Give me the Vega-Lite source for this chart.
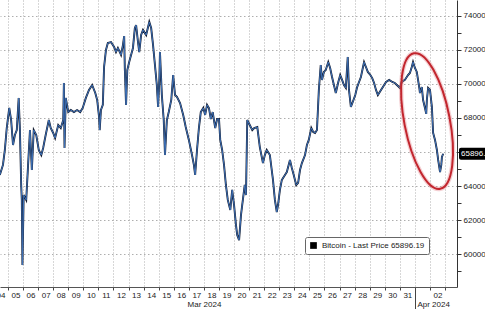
{
"$schema": "https://vega.github.io/schema/vega-lite/v6.json",
"width": 457, "height": 287,
"autosize": {"type": "none"},
"padding": {"left": 0, "top": 0, "right": 28, "bottom": 22},
"background": "white",
"config": {"view": {"stroke": null}, "font": "Liberation Sans"},
"datasets": {
"btc": [
{"t":"2024-03-04T11:00","p":64650},{"t":"2024-03-04T16:00","p":65240},{"t":"2024-03-04T19:00","p":66120},{"t":"2024-03-04T22:00","p":67410},
{"t":"2024-03-05T02:00","p":68590},{"t":"2024-03-05T05:00","p":67880},{"t":"2024-03-05T08:00","p":66410},{"t":"2024-03-05T11:00","p":67000},
{"t":"2024-03-05T14:00","p":67290},{"t":"2024-03-05T17:00","p":69180},{"t":"2024-03-05T19:00","p":67290},{"t":"2024-03-05T21:00","p":64060},
{"t":"2024-03-05T22:00","p":63180},{"t":"2024-03-05T23:00","p":59350},{"t":"2024-03-06T01:00","p":63470},{"t":"2024-03-06T05:00","p":63180},
{"t":"2024-03-06T08:00","p":65240},{"t":"2024-03-06T11:00","p":67290},{"t":"2024-03-06T14:00","p":64940},{"t":"2024-03-06T17:00","p":67290},
{"t":"2024-03-06T21:00","p":67000},{"t":"2024-03-07T01:00","p":66120},{"t":"2024-03-07T05:00","p":65820},{"t":"2024-03-07T08:00","p":66240},
{"t":"2024-03-07T12:00","p":67000},{"t":"2024-03-07T17:00","p":67880},{"t":"2024-03-07T20:00","p":67410},{"t":"2024-03-08T00:00","p":67120},
{"t":"2024-03-08T03:00","p":66820},{"t":"2024-03-08T08:00","p":67590},{"t":"2024-03-08T12:00","p":67410},{"t":"2024-03-08T16:00","p":67880},
{"t":"2024-03-08T17:00","p":70060},{"t":"2024-03-08T18:00","p":66240},{"t":"2024-03-08T20:00","p":69180},{"t":"2024-03-09T00:00","p":68350},
{"t":"2024-03-09T04:00","p":68470},{"t":"2024-03-09T09:00","p":68350},{"t":"2024-03-09T14:00","p":68470},{"t":"2024-03-09T19:00","p":68350},
{"t":"2024-03-09T23:00","p":68590},{"t":"2024-03-10T04:00","p":69180},{"t":"2024-03-10T09:00","p":69650},{"t":"2024-03-10T14:00","p":69940},
{"t":"2024-03-10T19:00","p":69470},{"t":"2024-03-10T22:00","p":69060},{"t":"2024-03-11T01:00","p":68060},{"t":"2024-03-11T02:00","p":67290},
{"t":"2024-03-11T04:00","p":68470},{"t":"2024-03-11T07:00","p":68770},{"t":"2024-03-11T09:00","p":71000},{"t":"2024-03-11T12:00","p":72000},
{"t":"2024-03-11T15:00","p":72410},{"t":"2024-03-11T20:00","p":72470},{"t":"2024-03-12T01:00","p":72180},{"t":"2024-03-12T04:00","p":71880},
{"t":"2024-03-12T07:00","p":72120},{"t":"2024-03-12T12:00","p":71710},{"t":"2024-03-12T15:00","p":72290},{"t":"2024-03-12T17:00","p":72820},
{"t":"2024-03-12T18:00","p":70940},{"t":"2024-03-12T20:00","p":68770},{"t":"2024-03-12T22:00","p":70820},{"t":"2024-03-13T01:00","p":71290},
{"t":"2024-03-13T04:00","p":71710},{"t":"2024-03-13T07:00","p":72120},{"t":"2024-03-13T10:00","p":73290},{"t":"2024-03-13T12:00","p":73470},
{"t":"2024-03-13T15:00","p":72470},{"t":"2024-03-13T17:00","p":71880},{"t":"2024-03-13T20:00","p":72880},{"t":"2024-03-13T23:00","p":73180},
{"t":"2024-03-14T04:00","p":72880},{"t":"2024-03-14T09:00","p":73650},{"t":"2024-03-14T12:00","p":73290},{"t":"2024-03-14T15:00","p":72290},
{"t":"2024-03-14T18:00","p":71120},{"t":"2024-03-14T21:00","p":69940},{"t":"2024-03-14T23:00","p":68650},{"t":"2024-03-15T01:00","p":70240},
{"t":"2024-03-15T02:00","p":71880},{"t":"2024-03-15T05:00","p":69350},{"t":"2024-03-15T08:00","p":67880},{"t":"2024-03-15T10:00","p":65820},
{"t":"2024-03-15T13:00","p":67880},{"t":"2024-03-15T16:00","p":68350},{"t":"2024-03-15T20:00","p":69060},{"t":"2024-03-15T23:00","p":70530},
{"t":"2024-03-16T02:00","p":69350},{"t":"2024-03-16T05:00","p":69240},{"t":"2024-03-16T10:00","p":68880},{"t":"2024-03-16T15:00","p":68180},
{"t":"2024-03-16T19:00","p":67470},{"t":"2024-03-17T00:00","p":66710},{"t":"2024-03-17T05:00","p":65820},{"t":"2024-03-17T08:00","p":65240},
{"t":"2024-03-17T10:00","p":64650},{"t":"2024-03-17T13:00","p":66120},{"t":"2024-03-17T16:00","p":67410},{"t":"2024-03-17T19:00","p":68350},
{"t":"2024-03-17T23:00","p":68590},{"t":"2024-03-18T02:00","p":68180},{"t":"2024-03-18T05:00","p":68770},{"t":"2024-03-18T08:00","p":68590},
{"t":"2024-03-18T11:00","p":67940},{"t":"2024-03-18T14:00","p":68350},{"t":"2024-03-18T18:00","p":67410},{"t":"2024-03-18T21:00","p":67940},
{"t":"2024-03-19T00:00","p":67940},{"t":"2024-03-19T02:00","p":66710},{"t":"2024-03-19T05:00","p":66120},{"t":"2024-03-19T08:00","p":65240},
{"t":"2024-03-19T11:00","p":64060},{"t":"2024-03-19T14:00","p":63180},{"t":"2024-03-19T18:00","p":62590},{"t":"2024-03-19T21:00","p":63770},
{"t":"2024-03-20T00:00","p":62880},{"t":"2024-03-20T03:00","p":61710},{"t":"2024-03-20T05:00","p":61120},{"t":"2024-03-20T08:00","p":60820},
{"t":"2024-03-20T11:00","p":62290},{"t":"2024-03-20T14:00","p":63180},{"t":"2024-03-20T17:00","p":64060},{"t":"2024-03-20T19:00","p":63470},
{"t":"2024-03-20T21:00","p":67880},{"t":"2024-03-21T01:00","p":67590},{"t":"2024-03-21T05:00","p":67290},{"t":"2024-03-21T08:00","p":67410},
{"t":"2024-03-21T13:00","p":67470},{"t":"2024-03-21T17:00","p":66290},{"t":"2024-03-21T22:00","p":65350},{"t":"2024-03-22T01:00","p":65820},
{"t":"2024-03-22T04:00","p":66120},{"t":"2024-03-22T09:00","p":65820},{"t":"2024-03-22T14:00","p":64350},{"t":"2024-03-22T17:00","p":63180},
{"t":"2024-03-22T20:00","p":62470},{"t":"2024-03-22T22:00","p":62880},{"t":"2024-03-23T01:00","p":63770},{"t":"2024-03-23T04:00","p":64350},
{"t":"2024-03-23T09:00","p":64650},{"t":"2024-03-23T12:00","p":64820},{"t":"2024-03-23T17:00","p":65530},{"t":"2024-03-23T20:00","p":65060},
{"t":"2024-03-23T23:00","p":64650},{"t":"2024-03-24T03:00","p":64060},{"t":"2024-03-24T06:00","p":64180},{"t":"2024-03-24T09:00","p":64940},
{"t":"2024-03-24T12:00","p":65350},{"t":"2024-03-24T17:00","p":65820},{"t":"2024-03-24T20:00","p":66410},{"t":"2024-03-24T23:00","p":66710},
{"t":"2024-03-25T03:00","p":67410},{"t":"2024-03-25T06:00","p":67180},{"t":"2024-03-25T09:00","p":67120},{"t":"2024-03-25T12:00","p":67290},
{"t":"2024-03-25T15:00","p":69650},{"t":"2024-03-25T18:00","p":71120},{"t":"2024-03-25T20:00","p":70240},{"t":"2024-03-25T23:00","p":70710},
{"t":"2024-03-26T02:00","p":70820},{"t":"2024-03-26T06:00","p":71290},{"t":"2024-03-26T09:00","p":70940},{"t":"2024-03-26T12:00","p":70410},
{"t":"2024-03-26T15:00","p":69940},{"t":"2024-03-26T18:00","p":69470},{"t":"2024-03-26T22:00","p":70120},{"t":"2024-03-27T01:00","p":70530},
{"t":"2024-03-27T04:00","p":70240},{"t":"2024-03-27T07:00","p":69940},{"t":"2024-03-27T10:00","p":69770},{"t":"2024-03-27T13:00","p":71590},
{"t":"2024-03-27T15:00","p":69650},{"t":"2024-03-27T18:00","p":68650},{"t":"2024-03-27T21:00","p":68940},{"t":"2024-03-28T01:00","p":69350},
{"t":"2024-03-28T04:00","p":69820},{"t":"2024-03-28T07:00","p":70120},{"t":"2024-03-28T10:00","p":70410},{"t":"2024-03-28T13:00","p":70940},
{"t":"2024-03-28T15:00","p":71290},{"t":"2024-03-28T18:00","p":71000},{"t":"2024-03-28T21:00","p":70710},{"t":"2024-03-29T01:00","p":70530},
{"t":"2024-03-29T04:00","p":70350},{"t":"2024-03-29T07:00","p":70060},{"t":"2024-03-29T10:00","p":69650},{"t":"2024-03-29T13:00","p":69350},
{"t":"2024-03-29T16:00","p":69530},{"t":"2024-03-29T21:00","p":69820},{"t":"2024-03-30T02:00","p":70120},{"t":"2024-03-30T07:00","p":70240},
{"t":"2024-03-30T12:00","p":70120},{"t":"2024-03-30T16:00","p":70060},{"t":"2024-03-30T21:00","p":69880},{"t":"2024-03-31T00:00","p":69770},
{"t":"2024-03-31T03:00","p":70120},{"t":"2024-03-31T08:00","p":70240},{"t":"2024-03-31T13:00","p":70530},{"t":"2024-03-31T16:00","p":70650},
{"t":"2024-03-31T19:00","p":71000},{"t":"2024-03-31T21:00","p":71290},{"t":"2024-04-01T00:00","p":70940},{"t":"2024-04-01T03:00","p":70710},
{"t":"2024-04-01T07:00","p":69770},{"t":"2024-04-01T08:00","p":69470},{"t":"2024-04-01T11:00","p":69820},{"t":"2024-04-01T13:00","p":69060},
{"t":"2024-04-01T16:00","p":68590},{"t":"2024-04-01T18:00","p":68240},{"t":"2024-04-01T19:00","p":69060},{"t":"2024-04-01T21:00","p":69770},
{"t":"2024-04-02T00:00","p":69650},{"t":"2024-04-02T03:00","p":68650},{"t":"2024-04-02T05:00","p":67120},{"t":"2024-04-02T08:00","p":66710},
{"t":"2024-04-02T11:00","p":66120},{"t":"2024-04-02T13:00","p":65530},{"t":"2024-04-02T16:00","p":64820},{"t":"2024-04-02T18:00","p":65240},
{"t":"2024-04-02T19:00","p":65710},{"t":"2024-04-02T21:00","p":65896.19}
],
"annot": [{"t":"2024-04-01T19:20","p":67820}],
"last": [{"t":"2024-04-03T19:00","p":65896.19,"s":"Bitcoin - Last Price 65896.19","lbl":"65896.19"}]
},
"layer": [
{
"data": {"name": "btc"},
"mark": {"type": "line", "color": "#121a2e", "strokeWidth": 1.9},
"encoding": {
"x": {"field": "t", "type": "temporal",
"scale": {"domain": [{"year":2024,"month":3,"date":4,"hours":11,"minutes":16},{"year":2024,"month":4,"date":3,"hours":19}]},
"axis": {"orient": "bottom", "title": null, "tickCount": {"interval": "day", "step": 1},
"labelExpr": "datum.value > datetime(2024,3,2,12) ? '' : timeFormat(datum.value,'%d')",
"labelOffset": 7.5, "labelPadding": 1, "labelFontSize": 8, "labelColor": "#222", "labelFlush": false, "labelOverlap": false,
"tickSize": {"condition": {"test": "month(datum.value)==3 && date(datum.value)==1", "value": 22}, "value": 3},
"tickColor": "#444", "domainColor": "#555",
"grid": true, "gridDash": [1, 2], "gridColor": "#999", "gridWidth": 0.8}},
"y": {"field": "p", "type": "quantitative",
"scale": {"domain": [58059, 74941], "nice": false, "zero": false},
"axis": {"orient": "right", "title": null,
"values": [59000,60000,61000,62000,63000,64000,65000,66000,67000,68000,69000,70000,71000,72000,73000,74000],
"labelExpr": "datum.value % 2000 == 0 ? '' + datum.value : ''",
"grid": true, "gridDash": [1.5, 2.5], "gridColor": "#999", "gridWidth": 0.8,
"gridOpacity": {"condition": {"test": "datum.value % 2000 != 0", "value": 0}, "value": 1},
"tickSize": 4, "tickColor": "#333", "domainColor": "#333", "labelPadding": 2,
"labelFontSize": 8, "labelColor": "#222", "labelOverlap": false, "labelFlush": false}}
}
},
{
"data": {"name": "btc"},
"mark": {"type": "line", "color": "#3f72b8", "strokeWidth": 1.0},
"encoding": {
"x": {"field": "t", "type": "temporal",
"axis": {"orient": "bottom", "title": null, "ticks": false, "domain": false, "grid": false,
"values": [{"year":2024,"month":3,"date":18},{"year":2024,"month":4,"date":1}],
"labelExpr": "month(datum.value)==2 ? 'Mar 2024' : 'Apr 2024'",
"labelAlign": {"condition": {"test": "month(datum.value)==3", "value": "left"}, "value": "center"},
"labelOffset": {"condition": {"test": "month(datum.value)==3", "value": 2}, "value": 0},
"labelPadding": 13, "labelFontSize": 8, "labelColor": "#222", "labelFlush": false, "labelOverlap": false}},
"y": {"field": "p", "type": "quantitative", "axis": null}
}
},
{
"data": {"name": "annot"},
"mark": {"type": "point", "shape": "M-0.33,0A0.33,1,0,1,0,0.33,0A0.33,1,0,1,0,-0.33,0Z", "size": 19044, "angle": -11, "filled": false, "stroke": "#e07880", "strokeWidth": 4.5, "opacity": 0.35},
"encoding": {
"x": {"field": "t", "type": "temporal",
"axis": {"orient": "bottom", "title": null, "ticks": false, "domain": false, "grid": false,
"values": [{"year":2024,"month":3,"date":4,"hours":12}],
"format": "%d", "labelPadding": 4, "labelFontSize": 8, "labelColor": "#222", "labelFlush": false, "labelOverlap": false, "labelBound": false}},
"y": {"field": "p", "type": "quantitative", "axis": null}}
},
{
"data": {"name": "annot"},
"mark": {"type": "point", "shape": "M-0.33,0A0.33,1,0,1,0,0.33,0A0.33,1,0,1,0,-0.33,0Z", "size": 19044, "angle": -11, "filled": false, "stroke": "#c2262e", "strokeWidth": 2, "opacity": 1},
"encoding": {"x": {"field": "t", "type": "temporal", "axis": null}, "y": {"field": "p", "type": "quantitative", "axis": null}}
},
{
"data": {"name": "last"},
"mark": {"type": "rect", "width": 36, "height": 12, "xOffset": 20, "cornerRadius": 2},
"encoding": {
"x": {"field": "t", "type": "temporal", "axis": null},
"y": {"field": "p", "type": "quantitative", "axis": null},
"color": {"field": "s", "type": "nominal", "scale": {"range": ["#000000"]},
"legend": {"orient": "none", "legendX": 305, "legendY": 237, "title": null, "padding": 4,
"strokeColor": "#666", "fillColor": "white", "cornerRadius": 2, "symbolType": "square", "symbolSize": 45,
"labelFontSize": 8, "labelColor": "#222", "labelFont": "Liberation Sans", "labelLimit": 200}}
}
},
{
"data": {"name": "last"},
"mark": {"type": "text", "align": "left", "baseline": "middle", "dx": 4, "fontSize": 8, "color": "white"},
"encoding": {
"x": {"field": "t", "type": "temporal", "axis": null},
"y": {"field": "p", "type": "quantitative", "axis": null},
"text": {"field": "lbl"}
}
}
],
"resolve": {"axis": {"x": "independent", "y": "independent"}}
}
